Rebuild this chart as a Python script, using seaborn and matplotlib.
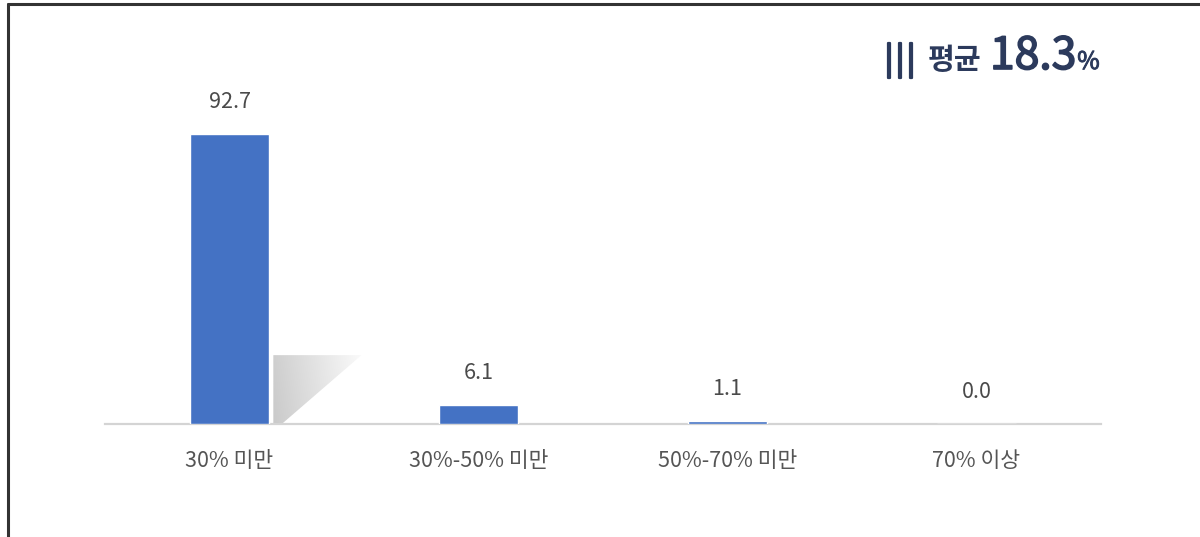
import numpy as np
import pandas as pd
import matplotlib
matplotlib.use("Agg")
import matplotlib.pyplot as plt
import seaborn as sns
from matplotlib.lines import Line2D
from matplotlib.patches import Polygon
import matplotlib.patheffects as pe

categories = ["30% 미만", "30%-50% 미만", "50%-70% 미만", "70% 이상"]
values = [92.7, 6.1, 1.1, 0.0]
value_labels = ["92.7", "6.1", "1.1", "0.0"]
avg_label = "평균"
avg_value = "18.3"

sns.set_theme(style="white")
plt.rcParams['font.family'] = ['Noto Sans CJK KR', 'DejaVu Sans']

W, H = 1200, 537
fig = plt.figure(figsize=(W / 100, H / 100), dpi=100)
fig.patch.set_facecolor("white")

ax_left, ax_right = 105 / W, 1101 / W
ax_bottom = (H - 424) / H
ax_top = (H - 40) / H
ax = fig.add_axes([ax_left, ax_bottom, ax_right - ax_left, ax_top - ax_bottom])

df = pd.DataFrame({"cat": categories, "val": values})
sns.barplot(data=df, x="cat", y="val", color="#4472C4", saturation=1,
            width=0.32, ax=ax, zorder=3)

YMAX = (424 - 40) / 3.13
ax.set_xlim(-0.5, len(categories) - 0.5)
ax.set_ylim(0, YMAX)

for s in ["top", "right", "left"]:
    ax.spines[s].set_visible(False)
ax.spines["bottom"].set_color("#d4d4d4")
ax.spines["bottom"].set_linewidth(1.6)
ax.set_yticks([])
ax.set_xlabel("")
ax.set_ylabel("")
ax.tick_params(axis="x", length=0, pad=19, labelsize=15.5, labelcolor="#555555")

for i, (v, lab) in enumerate(zip(values, value_labels)):
    ax.annotate(lab, (i, v), xytext=(0, 23), textcoords="offset points",
                ha="center", va="center", fontsize=15.5, color="#4a4a4a")

# decorative shadow next to first bar
p = ax.patches[0]
x0 = p.get_x() + p.get_width()
sh_top = 22.0
poly = Polygon([(x0 + 0.016, 0), (x0 + 0.016, sh_top), (x0 + 0.37, sh_top), (x0 + 0.05, 0)],
               closed=True, transform=ax.transData, facecolor="none", edgecolor="none")
ax.add_patch(poly)
gx = np.linspace(0, 1, 256)
gy = np.linspace(0, 1, 128)
GX, GY = np.meshgrid(gx, gy)
grad = 0.79 + 0.20 * np.clip(GX * 0.85 + (1 - GY) * 0.1, 0, 1)
im = ax.imshow(grad, cmap="gray", vmin=0, vmax=1, aspect="auto", origin="upper",
               extent=[x0 + 0.016, x0 + 0.37, 0, sh_top], zorder=2, interpolation="bilinear")
im.set_clip_path(poly)
ax.set_xlim(-0.5, len(categories) - 0.5)
ax.set_ylim(0, YMAX)

# frame lines (top and left)
fig.add_artist(Line2D([8 / W, 1], [1 - 4 / H, 1 - 4 / H], color="#333333", lw=2.2,
                      transform=fig.transFigure))
fig.add_artist(Line2D([8 / W, 8 / W], [0, 1 - 4 / H], color="#333333", lw=2.2,
                      transform=fig.transFigure))

# average annotation
navy = "#2c3a5c"
yb = 1 - 69 / H  # baseline
for bx in (885, 896, 907):
    fig.text(bx / W, yb, "|", fontsize=22, color=navy, ha="left", va="baseline",
             path_effects=[pe.withStroke(linewidth=1.6, foreground=navy)])
t1 = fig.text(928 / W, yb, avg_label, fontsize=21, color=navy, ha="left",
              va="baseline", fontweight="bold")
t2 = fig.text(990 / W, yb, avg_value, fontsize=32, color=navy, ha="left",
              va="baseline",
              path_effects=[pe.withStroke(linewidth=1.2, foreground=navy)])
fig.canvas.draw()
r = fig.canvas.get_renderer()
bb = t2.get_window_extent(r)
t3 = fig.text((bb.x1 + 1) / W, yb, "%", fontsize=17.5, color=navy, ha="left",
              va="baseline",
              path_effects=[pe.withStroke(linewidth=0.7, foreground=navy)])

fig.savefig("out.png", dpi=100, facecolor="white")
